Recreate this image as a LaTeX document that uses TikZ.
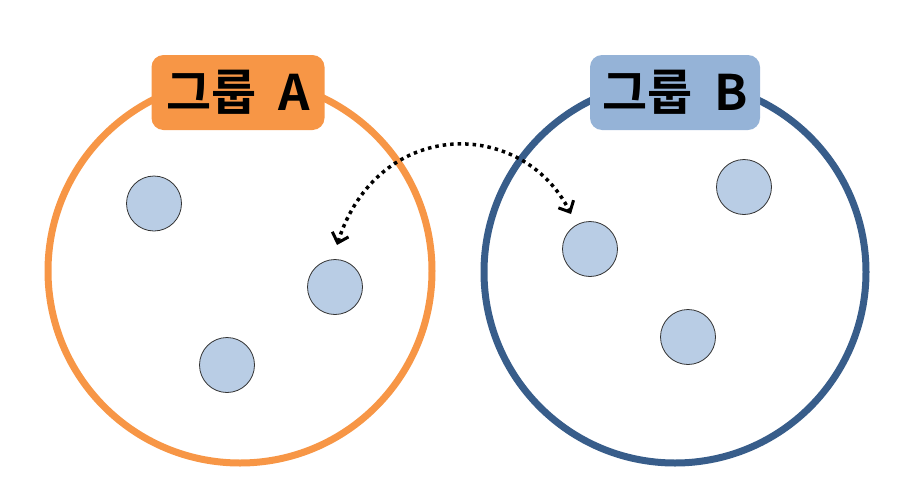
\documentclass[tikz,border=0pt]{standalone}
\usepackage{fontspec}
\newfontfamily\kr{Noto Sans CJK KR}[BoldFont={* Bold}]
\usetikzlibrary{arrows.meta}
\definecolor{orangeA}{HTML}{F79646}
\definecolor{blueB}{HTML}{95B3D7}
\definecolor{darkB}{HTML}{385D8A}
\definecolor{dotfill}{HTML}{B9CDE5}
\tikzset{
  group/.style={draw, line width=7pt, circle, minimum size=384pt, inner sep=0pt},
  member/.style={draw=black!80, fill=dotfill, circle, minimum size=55pt, inner sep=0pt, line width=0.8pt},
  label/.style={rounded corners=12pt, minimum width=173pt, minimum height=75pt, inner sep=0pt, font=\kr\bfseries\fontsize{49}{52}\selectfont},
  link/.style={line width=3.5pt, dash pattern=on 3.5pt off 4pt, {Straight Barb[length=9pt,width=17pt,line width=3pt]}-{Straight Barb[length=9pt,width=17pt,line width=3pt]}}
}
\begin{document}
\begin{tikzpicture}[x=1pt,y=-1pt]
\useasboundingbox (0,0) rectangle (924,501);
\node[group, draw=orangeA] (ga) at (240,271) {};
\node[group, draw=darkB, minimum size=382pt] (gb) at (675,272) {};
\node[label, fill=orangeA] (la) at (238,92.5) {그룹\hspace{0.45em}A};
\node[label, fill=blueB, minimum width=170pt] (lb) at (675,92.5) {그룹\hspace{0.45em}B};
\node[member] (a1) at (154,203.5) {};
\node[member] (a2) at (335,287) {};
\node[member] (a3) at (227,365) {};
\node[member] (b1) at (590,249) {};
\node[member] (b2) at (744,187) {};
\node[member] (b3) at (688,337) {};
\coordinate (p) at (337,245);
\coordinate (q) at (571,214);
\draw[link] (p) .. controls (378,117) and (522,117) .. (q);
\end{tikzpicture}
\end{document}
